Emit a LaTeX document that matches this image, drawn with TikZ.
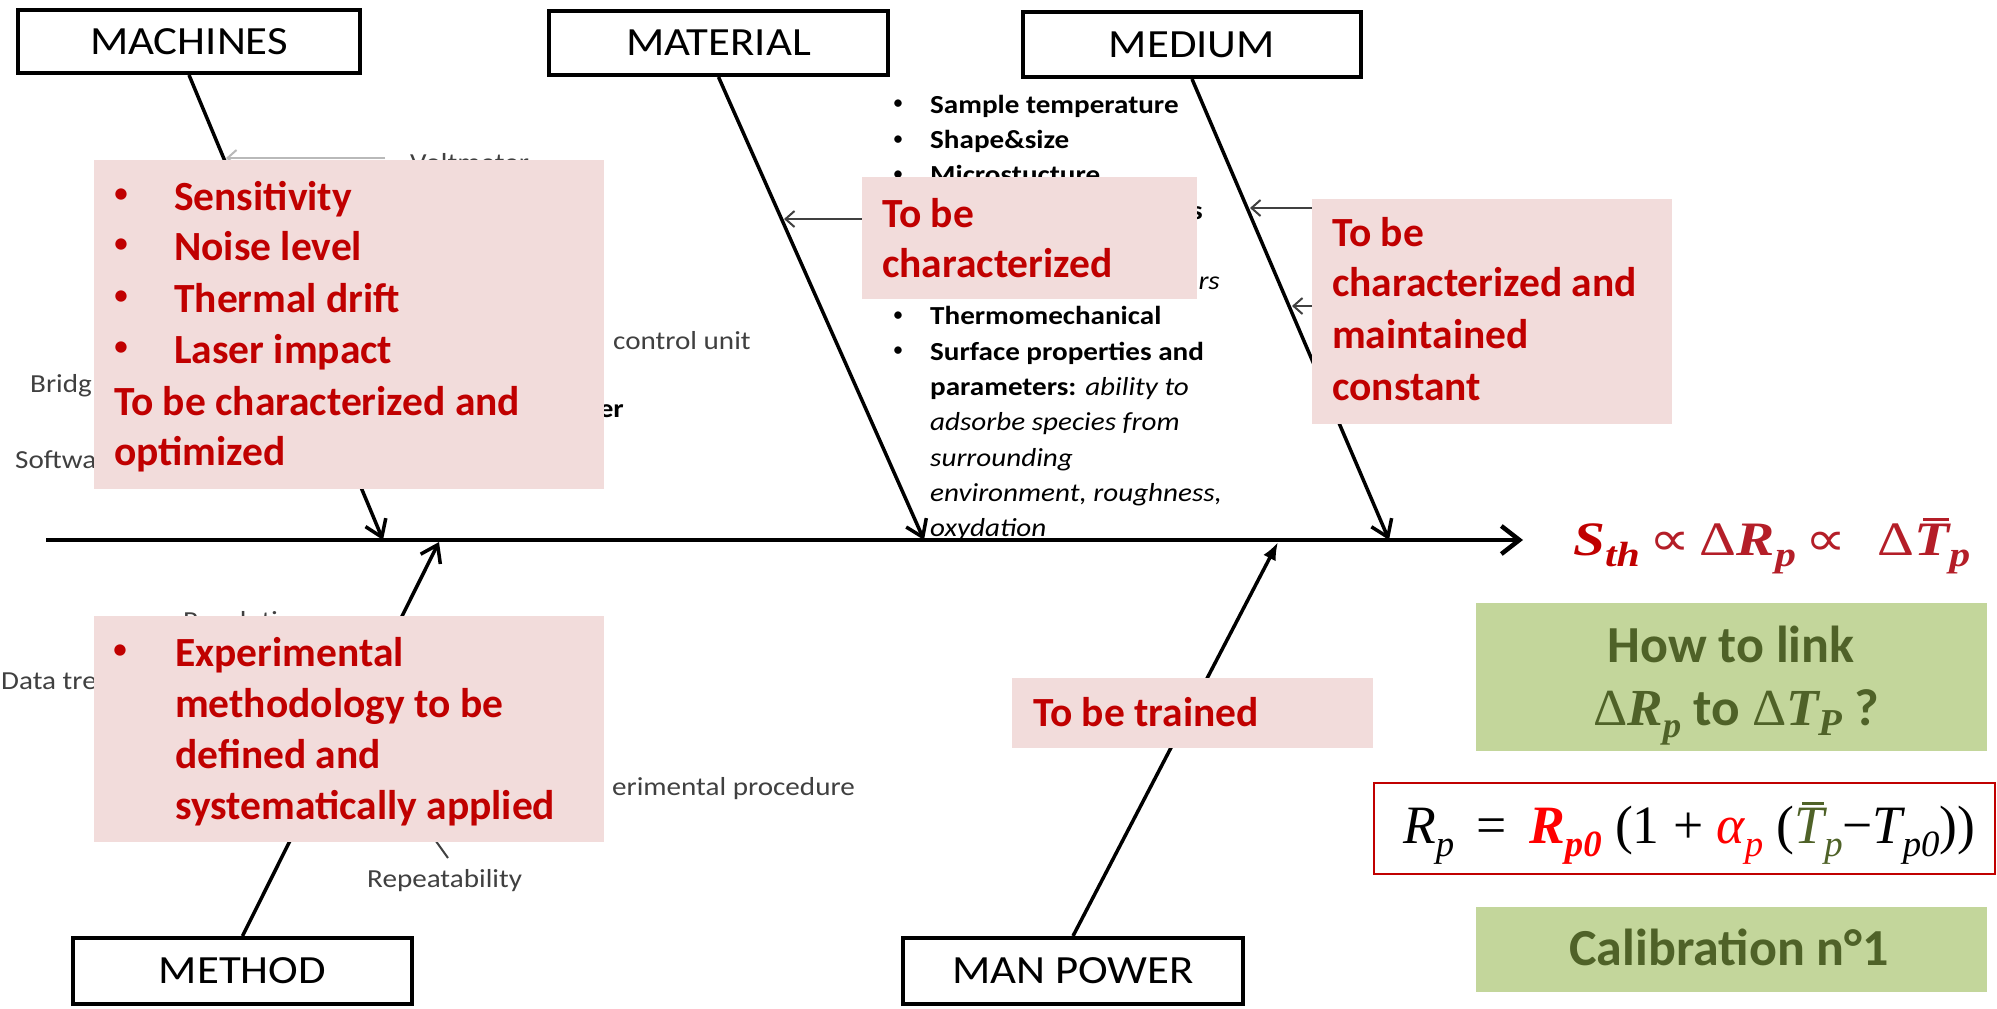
\documentclass[tikz,border=0pt]{standalone}
\usepackage{fontspec}
\usepackage{graphicx}
\setmainfont{Carlito}
\newfontfamily\tms{Liberation Serif}
\newfontfamily\dvs{DejaVu Sans}
\usetikzlibrary{arrows.meta}
\definecolor{pinkbg}{HTML}{F2DCDB}
\definecolor{redtx}{HTML}{C00000}
\definecolor{mathred}{HTML}{B41E28}
\definecolor{brightred}{HTML}{FF0000}
\definecolor{greenbg}{HTML}{C3D69B}
\definecolor{greentx}{HTML}{4F6228}
\definecolor{graytx}{HTML}{404040}
\newcommand{\sx}[1]{\scalebox{1.12}[1]{#1}}
\newcommand{\fs}[1]{\fontsize{#1}{#1}\selectfont}
\newcommand{\sbx}[3]{\raisebox{-#1}{\fs{#2}#3}}
\newcommand{\barred}[1]{\leavevmode\setbox0\hbox{#1}\rlap{\hskip0.25\wd0\raisebox{\dimexpr\ht0+3pt\relax}{\rule{0.75\wd0}{3pt}}}\box0}
\tikzset{
 catbox/.style={draw=black,line width=4pt,fill=white,inner sep=0pt,font=\fs{40}},
 branch/.style={line width=3.5pt,-{Straight Barb[length=16pt,width=22pt]}},
 spine/.style={line width=4.5pt,-{Straight Barb[length=18pt,width=28pt]}},
 subarr/.style={line width=2pt,draw=graytx,-{Straight Barb[length=9pt,width=16pt]}},
 glabel/.style={anchor=base west,inner sep=0pt,text=graytx,font=\fs{26}},
 mlist/.style={anchor=base west,inner sep=0pt,font=\fs{26}\bfseries},
 mbul/.style={anchor=center,inner sep=0pt,font=\fs{21}},
 pinkbox/.style={fill=pinkbg,draw=none,inner sep=0pt},
 redline/.style={anchor=base west,inner sep=0pt,text=redtx,font=\fs{41.5}\bfseries},
 redbul/.style={anchor=center,inner sep=0pt,text=redtx,font=\fs{32}},
 greenbox/.style={fill=greenbg,draw=none,inner sep=0pt},
 greentext/.style={inner sep=0pt,text=greentx,font=\fs{52}\bfseries},
}
\begin{document}
\begin{tikzpicture}[x=1pt,y=-1pt]
\useasboundingbox (0,0) rectangle (1997,1009);
\fill[white] (0,0) rectangle (1997,1009);

% category boxes
\node[catbox,minimum width=342,minimum height=63] (mach) at (189,41.5) {\sx{MACHINES}};
\node[catbox,minimum width=339,minimum height=64] (mat) at (718.5,43) {\sx{MATERIAL}};
\node[catbox,minimum width=338,minimum height=65] (med) at (1192,44.5) {\sx{MEDIUM}};
\node[catbox,minimum width=339,minimum height=66] (meth) at (242.5,971) {\sx{METHOD}};
\node[catbox,minimum width=340,minimum height=66] (man) at (1073,971) {\sx{MAN POWER}};

% spine and branches
\coordinate (sp0) at (46,540);
\coordinate (sp1) at (1523,540);
\draw[spine] (sp0) -- (sp1);
\coordinate (tA) at (383,540);
\coordinate (tB) at (924,540);
\coordinate (tC) at (1389,540);
\coordinate (tD) at (439,542);
\coordinate (tE) at (1278,542);
\draw[branch] (mach.south) -- (tA);
\draw[branch] (mat.south) -- (tB);
\draw[branch] (med.south) -- (tC);
\draw[branch] (meth.north) -- (tD);
\draw[line width=3.5pt,-{Latex[length=18pt,width=14pt]}] (man.north) -- (tE);

% sub-branches
\coordinate (vA) at (226,158); \coordinate (vB) at (385,158);
\draw[subarr,draw=gray!55] (vB) -- (vA);
\coordinate (mA) at (784,219); \coordinate (mB) at (862,219);
\draw[subarr] (mB) -- (mA);
\coordinate (dA) at (1250,208); \coordinate (dB) at (1312,208);
\draw[subarr] (dB) -- (dA);
\coordinate (eA) at (1292,306); \coordinate (eB) at (1312,306);
\draw[subarr] (eB) -- (eA);
\coordinate (rA) at (428,830); \coordinate (rB) at (448,858);
\draw[line width=2pt,draw=graytx] (rA) -- (rB);

% gray labels of the fishbone
\node[glabel] (volt) at (410,171) {\sx{Voltmeter}};
\node[glabel] (ctrl) at (613,349) {\sx{control unit}};
\node[glabel] (bridge) at (30,392) {\sx{Bridg}};
\node[glabel] (soft) at (15,468) {\sx{Softwa}};
\node[anchor=base east,inner sep=0pt,font=\fs{26}\bfseries] (er) at (624,417) {\sx{er}};
\node[glabel] (resol) at (183,629) {\sx{Resolution}};
\node[glabel] (data) at (1,689) {\sx{Data tre}};
\node[glabel,anchor=base east] (expp) at (855,795) {\sx{erimental procedure}};
\node[glabel] (rep) at (367,887) {\sx{Repeatability}};

% material list
\node[mbul] (mb1) at (898,105) {•};
\node[mlist] (m1) at (930,113) {\sx{Sample temperature}};
\node[mbul] (mb2) at (898,140.3) {•};
\node[mlist] (m2) at (930,148.3) {\sx{Shape\&size}};
\node[mbul] (mb3) at (898,175.6) {•};
\node[mlist] (m3) at (930,183.6) {\sx{Microstucture}};
\node[mlist,anchor=base east] (m4) at (1203,219) {\sx{s}};
\node[mlist,anchor=base east] (m6) at (1220,289.5) {\sx{\mdseries\itshape rs}};
\node[mbul] (mb7) at (898,316.8) {•};
\node[mlist] (m7) at (930,324.8) {\sx{Thermomechanical}};
\node[mbul] (mb8) at (898,352.1) {•};
\node[mlist] (m8) at (930,360.1) {\sx{Surface properties and}};
\node[mlist] (m9) at (930,395.4) {\sx{parameters: {\mdseries\itshape ability to}}};
\node[mlist] (m10) at (930,430.7) {\sx{\mdseries\itshape adsorbe species from}};
\node[mlist] (m11) at (930,466) {\sx{\mdseries\itshape surrounding}};
\node[mlist] (m12) at (930,501.3) {\sx{\mdseries\itshape environment, roughness,}};
\node[mlist] (m13) at (930,536.6) {\sx{\mdseries\itshape oxydation}};

% pink boxes
\node[pinkbox,minimum width=510,minimum height=329] (p1) at (349,324.5) {};
\node[pinkbox,minimum width=335,minimum height=122] (p2) at (1029.5,238) {};
\node[pinkbox,minimum width=360,minimum height=225] (p3) at (1492,311.5) {};
\node[pinkbox,minimum width=510,minimum height=226] (p4) at (349,729) {};
\node[pinkbox,minimum width=361,minimum height=70] (p5) at (1192.5,713) {};

% red texts
\node[redbul] (b11) at (121,196) {•};
\node[redline] (t11) at (174,210) {Sensitivity};
\node[redbul] (b12) at (121,246) {•};
\node[redline] (t12) at (174,260) {Noise level};
\node[redbul] (b13) at (121,298) {•};
\node[redline] (t13) at (174,312) {Thermal drift};
\node[redbul] (b14) at (121,349) {•};
\node[redline] (t14) at (174,363) {Laser impact};
\node[redline] (t15) at (114,415) {To be characterized and};
\node[redline] (t16) at (114,465) {optimized};

\node[redline] (t21) at (882,227) {To be};
\node[redline] (t22) at (882,277) {characterized};

\node[redline] (t31) at (1332,246) {To be};
\node[redline] (t32) at (1332,296) {characterized and};
\node[redline] (t33) at (1332,348) {maintained};
\node[redline] (t34) at (1332,400) {constant};

\node[redbul] (b41) at (120,652) {•};
\node[redline] (t41) at (175,666) {Experimental};
\node[redline] (t42) at (175,717) {methodology to be};
\node[redline] (t43) at (175,768) {defined and};
\node[redline] (t44) at (175,819) {systematically applied};

\node[redline] (t51) at (1033,726) {To be trained};

% right side
\node[anchor=base west,inner sep=0pt,text=mathred] (sth) at (1573,555)
 {\resizebox{397pt}{\height}{\fs{48}\tms\bfseries\itshape
 {\color{redtx}S\sbx{11pt}{35}{th}}\,{\dvs\mdseries\upshape ∝}\,{\mdseries\upshape Δ}R\sbx{11pt}{35}{p}\,{\dvs\mdseries\upshape ∝}\hspace{26pt}{\mdseries\upshape Δ}\barred{T}\sbx{11pt}{35}{p}}};

\node[greenbox,minimum width=511,minimum height=148] (g1) at (1731.5,677) {};
\node[greentext,anchor=base] (g1a) at (1731,662) {How to link};
\node[greentext,anchor=base west] (g1b) at (1593,725)
 {\resizebox{286pt}{\height}{{\tms\mdseries Δ\bfseries\itshape R\sbx{12pt}{36}{p}} to {\tms\mdseries Δ\bfseries\itshape T\sbx{10pt}{38}{P}} ?}};

\node[draw=redtx,line width=2.5pt,fill=white,minimum width=621,minimum height=91,inner sep=0pt] (fbox) at (1684.5,828.5) {};
\node[anchor=base west,inner sep=0pt] (form) at (1403,843)
 {\resizebox{572pt}{\height}{\fs{54}\tms
 {\itshape R\sbx{13pt}{37}{p}}\, = \,{\color{brightred}\bfseries\itshape R\sbx{13pt}{37}{p0}} (1 + {\color{brightred}\itshape α\sbx{13pt}{37}{p}} ({\color{greentx}\itshape \barred{T}\sbx{13pt}{37}{p}}−{\itshape T\sbx{13pt}{37}{p0}}))}};

\node[greenbox,minimum width=511,minimum height=85] (g2) at (1731.5,949.5) {};
\node[greentext,anchor=base] (g2a) at (1729,965) {Calibration n°1};
\end{tikzpicture}
\end{document}
